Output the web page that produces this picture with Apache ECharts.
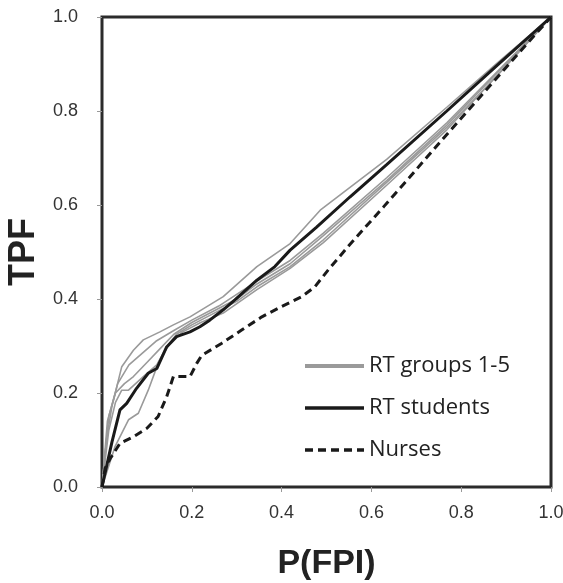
<!DOCTYPE html>
<html>
<head>
<meta charset="utf-8">
<script src="https://cdn.jsdelivr.net/npm/echarts@6/dist/echarts.min.js"></script>
<style>
  html, body { margin: 0; padding: 0; background: #fff; }
  #main { width: 563px; height: 583px; }
</style>
</head>
<body>
<div id="main"></div>
<script>
// ROC curves, [P(FPI), TPF] pairs
const rtGroup1 = [[0,0],[0.01,0.1],[0.022,0.171],[0.044,0.256],[0.07,0.291],[0.092,0.313],[0.129,0.33],[0.159,0.345],[0.196,0.362],[0.27,0.405],[0.345,0.469],[0.419,0.518],[0.486,0.589],[0.634,0.697],[0.768,0.808],[0.88,0.902],[1,1]];
const rtGroup2 = [[0,0],[0.015,0.12],[0.03,0.18],[0.044,0.206],[0.059,0.206],[0.092,0.235],[0.122,0.26],[0.144,0.298],[0.166,0.325],[0.2,0.345],[0.25,0.37],[0.3,0.395],[0.345,0.426],[0.419,0.469],[0.493,0.526],[0.634,0.648],[0.768,0.765],[0.88,0.875],[1,1]];
const rtGroup3 = [[0,0],[0.012,0.14],[0.03,0.2],[0.05,0.22],[0.07,0.235],[0.1,0.265],[0.13,0.295],[0.16,0.325],[0.2,0.35],[0.25,0.375],[0.3,0.4],[0.345,0.432],[0.419,0.475],[0.493,0.535],[0.634,0.652],[0.768,0.77],[1,1]];
const rtGroup4 = [[0,0],[0.029,0.086],[0.059,0.143],[0.081,0.157],[0.103,0.206],[0.125,0.263],[0.151,0.306],[0.18,0.33],[0.22,0.35],[0.27,0.37],[0.345,0.42],[0.419,0.465],[0.493,0.52],[0.634,0.642],[0.768,0.76],[1,1]];
const rtGroup5 = [[0,0],[0.015,0.15],[0.035,0.22],[0.06,0.26],[0.09,0.285],[0.12,0.31],[0.16,0.333],[0.2,0.355],[0.26,0.385],[0.345,0.438],[0.419,0.482],[0.493,0.54],[0.634,0.658],[0.768,0.775],[1,1]];
const rtStudents = [[0,0],[0.022,0.095],[0.04,0.164],[0.055,0.178],[0.077,0.21],[0.103,0.242],[0.122,0.252],[0.144,0.298],[0.166,0.32],[0.196,0.33],[0.218,0.341],[0.24,0.355],[0.27,0.377],[0.296,0.398],[0.345,0.44],[0.385,0.469],[0.419,0.504],[0.478,0.553],[0.552,0.617],[0.634,0.686],[0.768,0.8],[0.88,0.897],[1,1]];
const nurses = [[0,0],[0.007,0.04],[0.018,0.06],[0.04,0.093],[0.07,0.107],[0.1,0.125],[0.125,0.15],[0.144,0.192],[0.159,0.235],[0.196,0.235],[0.211,0.263],[0.222,0.28],[0.267,0.306],[0.311,0.334],[0.356,0.362],[0.4,0.384],[0.445,0.405],[0.474,0.426],[0.504,0.462],[0.552,0.516],[0.627,0.596],[0.686,0.66],[0.753,0.734],[0.842,0.83],[0.916,0.91],[0.968,0.966],[1,1]];

const legendNames = ['RT groups 1-5', 'RT students', 'Nurses'];

const chart = echarts.init(document.getElementById('main'));

function grayLine(data) {
  return {
    name: legendNames[0],
    type: 'line',
    data: data,
    showSymbol: false,
    symbol: 'none',
    lineStyle: { color: '#9a9a9a', width: 1.6 },
    itemStyle: { color: '#9a9a9a' },
    z: 2
  };
}

const axisCommon = {
  type: 'value',
  min: 0,
  max: 1,
  interval: 0.2,
  nameLocation: 'middle',
  nameTextStyle: { fontFamily: 'Liberation Sans', fontWeight: 'bold', color: '#222' },
  axisLine: { show: false },
  axisTick: { show: true, inside: false, length: 5, lineStyle: { color: '#999', width: 1 } },
  splitLine: { show: false },
  axisLabel: {
    fontFamily: 'Liberation Sans',
    fontSize: 18,
    color: '#333',
    formatter: v => v.toFixed(1)
  }
};

const option = {
  animation: false,
  backgroundColor: '#fff',
  grid: {
    left: 102,
    right: 12,
    top: 17,
    bottom: 96,
    outerBoundsMode: 'none',
    show: true,
    borderColor: '#2b2b2b',
    borderWidth: 3
  },
  legend: {
    data: [
      { name: legendNames[0], lineStyle: { width: 4 } },
      { name: legendNames[1], lineStyle: { width: 3.5 } },
      { name: legendNames[2], lineStyle: { width: 3.5 } }
    ],
    orient: 'vertical',
    left: 298,
    top: 350,
    itemWidth: 59,
    itemHeight: 20,
    itemGap: 20,
    itemStyle: { opacity: 0 },
    textStyle: { fontFamily: 'Open Sans', fontSize: 22, color: '#222', lineHeight: 20 }
  },
  xAxis: Object.assign({}, axisCommon, {
    name: 'P(FPI)',
    nameGap: 60,
    nameTextStyle: Object.assign({}, axisCommon.nameTextStyle, { fontSize: 34 }),
    axisLabel: Object.assign({}, axisCommon.axisLabel, { margin: 17 })
  }),
  yAxis: Object.assign({}, axisCommon, {
    name: 'TPF',
    nameGap: 56,
    nameTextStyle: Object.assign({}, axisCommon.nameTextStyle, { fontSize: 36 }),
    axisLabel: Object.assign({}, axisCommon.axisLabel, { margin: 24 })
  }),
  series: [
    grayLine(rtGroup1),
    grayLine(rtGroup2),
    grayLine(rtGroup3),
    grayLine(rtGroup4),
    grayLine(rtGroup5),
    {
      name: legendNames[1],
      type: 'line',
      data: rtStudents,
      showSymbol: false,
      symbol: 'none',
      lineStyle: { color: '#1a1a1a', width: 3 },
      itemStyle: { color: '#1a1a1a' },
      z: 3
    },
    {
      name: legendNames[2],
      type: 'line',
      data: nurses,
      showSymbol: false,
      symbol: 'none',
      lineStyle: { color: '#1a1a1a', width: 3, type: [8, 5] },
      itemStyle: { color: '#1a1a1a' },
      z: 3
    }
  ]
};

chart.setOption(option);
</script>
</body>
</html>
